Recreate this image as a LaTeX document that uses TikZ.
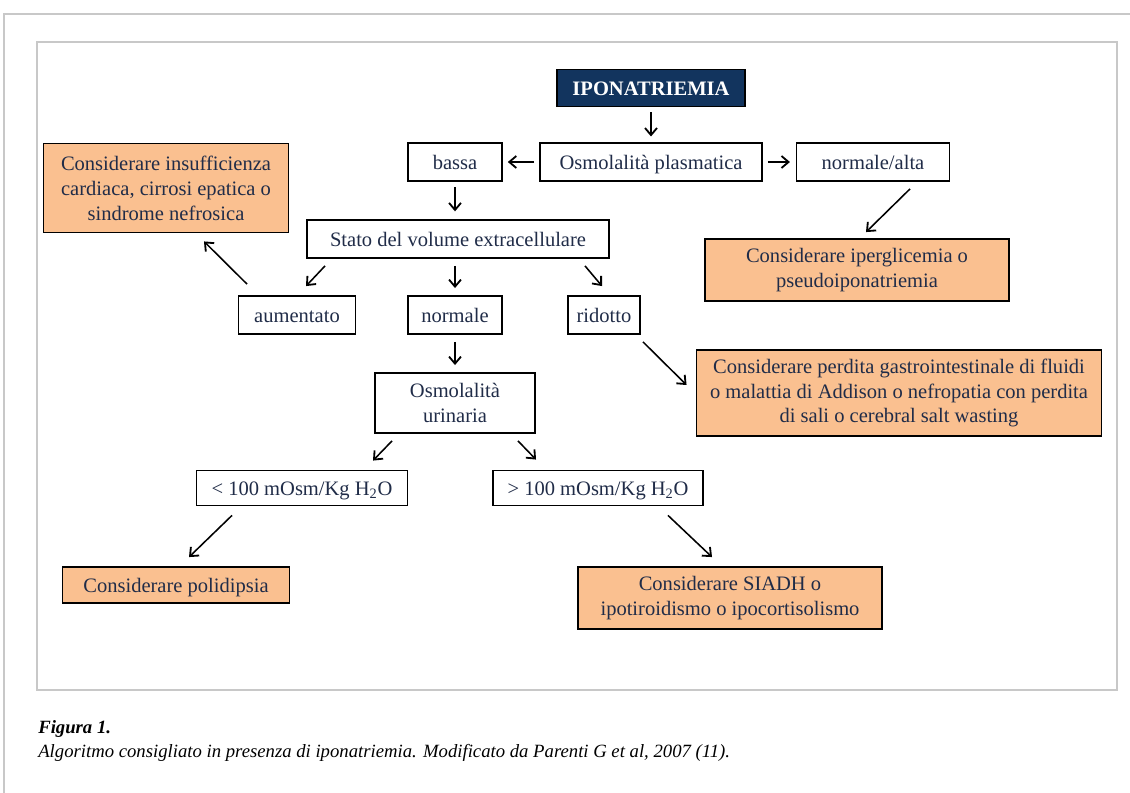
\documentclass[tikz,border=0pt]{standalone}
\usepackage{fontspec}
\setmainfont{Liberation Serif}
\usepackage{tikz}
\usetikzlibrary{calc,arrows.meta}
\definecolor{navyfill}{RGB}{18,52,94}
\definecolor{orangefill}{RGB}{250,192,144}
\definecolor{inktext}{RGB}{32,44,72}
\definecolor{framegray}{RGB}{200,200,200}
\tikzset{
  tbox/.style={draw=black, line width=1.3pt, fill=white, text=inktext, align=center,
    inner sep=0pt, font=\fontsize{14.6}{17.7}\selectfont},
  oneline/.style={text height=12pt, text depth=1pt},
  obox/.style={tbox, fill=orangefill},
  headbox/.style={tbox, oneline, fill=navyfill, text=white, font=\fontsize{14.6}{17.7}\selectfont\bfseries},
  arr/.style={-{Straight Barb[length=5pt,width=8.5pt,line width=1.3pt]}, line width=1.1pt},
}

\begin{document}
\begin{tikzpicture}[x=0.025cm, y=-0.025cm]
    \useasboundingbox (0,0) rectangle (1130,793);
    \draw[framegray, line width=1.2pt] (4,793) -- (4,14) -- (1130,14);
    \draw[framegray, line width=0.8pt] (37,42) rectangle (1117,690);

    \node[headbox, minimum width=4.7cm, minimum height=0.925cm] (ipo) at (651,88) {IPONATRIEMIA};
    \node[tbox, oneline, minimum width=5.55cm, minimum height=0.95cm] (osm) at (651,162) {Osmolalità plasmatica};
    \node[tbox, oneline, minimum width=2.35cm, minimum height=0.95cm] (bassa) at (455,162) {bassa};
    \node[tbox, oneline, minimum width=3.825cm, minimum height=0.95cm] (normalta) at (873,162) {normale/alta};
    \node[obox, minimum width=6.125cm, minimum height=2.225cm] (insuff) at (166,188)
        {Considerare insufficienza\\cardiaca, cirrosi epatica o\\sindrome nefrosica};
    \node[tbox, oneline, minimum width=7.55cm, minimum height=0.95cm] (stato) at (458,239) {Stato del volume extracellulare};
    \node[obox, minimum width=7.6cm, minimum height=1.55cm] (ipergl) at (857,270)
        {Considerare iperglicemia o\\pseudoiponatriemia};
    \node[tbox, oneline, minimum width=2.925cm, minimum height=0.95cm] (aumentato) at (297,315) {aumentato};
    \node[tbox, oneline, minimum width=2.35cm, minimum height=0.95cm] (normale) at (455,315) {normale};
    \node[tbox, oneline, minimum width=1.8cm, minimum height=0.95cm] (ridotto) at (604,315) {ridotto};
    \node[obox, minimum width=10.125cm, minimum height=2.15cm] (perdita) at (899,393)
        {Considerare perdita gastrointestinale di fluidi\\o malattia di Addison o nefropatia con perdita\\di sali o cerebral salt wasting};
    \node[tbox, minimum width=4cm, minimum height=1.5cm] (urin) at (455,403) {Osmolalità\\urinaria};
    \node[tbox, oneline, minimum width=5.275cm, minimum height=0.875cm] (lt) at (302,488) {< 100 mOsm/Kg H\textsubscript{2}O};
    \node[tbox, oneline, minimum width=5.25cm, minimum height=0.875cm] (gt) at (598,488) {> 100 mOsm/Kg H\textsubscript{2}O};
    \node[obox, oneline, minimum width=5.675cm, minimum height=0.9cm] (polid) at (176,585) {Considerare polidipsia};
    \node[obox, minimum width=7.6cm, minimum height=1.55cm] (siadh) at (730,598)
        {Considerare SIADH o\\ipotiroidismo o ipocortisolismo};

    \draw[arr, shorten <=3.5pt, shorten >=4pt] (ipo) -- (osm);
    \draw[arr, shorten <=3.5pt, shorten >=3.5pt] (osm) -- (bassa);
    \draw[arr, shorten <=3.5pt, shorten >=4pt] (osm) -- (normalta);
    \draw[arr, shorten <=3.5pt, shorten >=5.5pt] (bassa) -- (stato.north -| bassa.south);
    \draw[arr] ($(normalta.south)+(37,7)$) -- ($(ipergl.north)+(9,-6)$);
    \draw[arr] ($(stato.south)+(-133,7)$) -- ($(aumentato.north)+(9,-9)$);
    \draw[arr, shorten <=5pt, shorten >=5pt] (stato.south -| normale.north) -- (normale);
    \draw[arr] ($(stato.south)+(127,7)$) -- ($(ridotto.north)+(-2,-9)$);
    \draw[arr] ($(aumentato.north)+(-50,-11)$) -- ($(insuff.south)+(38,8)$);
    \draw[arr] ($(ridotto.south)+(39,7)$) -- ($(perdita.west)+(-9,-8)$);
    \draw[arr, shorten <=5pt, shorten >=5pt] (normale) -- (urin);
    \draw[arr] ($(urin.south)+(-63,7)$) -- ($(lt.north)+(71,-9)$);
    \draw[arr] ($(urin.south)+(63,7)$) -- ($(gt.north)+(-62,-10)$);
    \draw[arr] ($(lt.south)+(-70,9)$) -- ($(polid.north)+(13,-9)$);
    \draw[arr] ($(gt.south)+(70,9)$) -- ($(siadh.north)+(-18,-9)$);

    % caption
    \node[anchor=base west, inner sep=0pt, font=\fontsize{13.3}{15}\selectfont\bfseries\itshape] (figlab) at (38,733) {Figura 1.};
    \node[anchor=base west, inner sep=0pt, font=\fontsize{13.3}{15}\selectfont\itshape] (figtxt) at (38,757)
        {Algoritmo consigliato in presenza di iponatriemia. Modificato da Parenti G et al, 2007 (11).};
\end{tikzpicture}
\end{document}
